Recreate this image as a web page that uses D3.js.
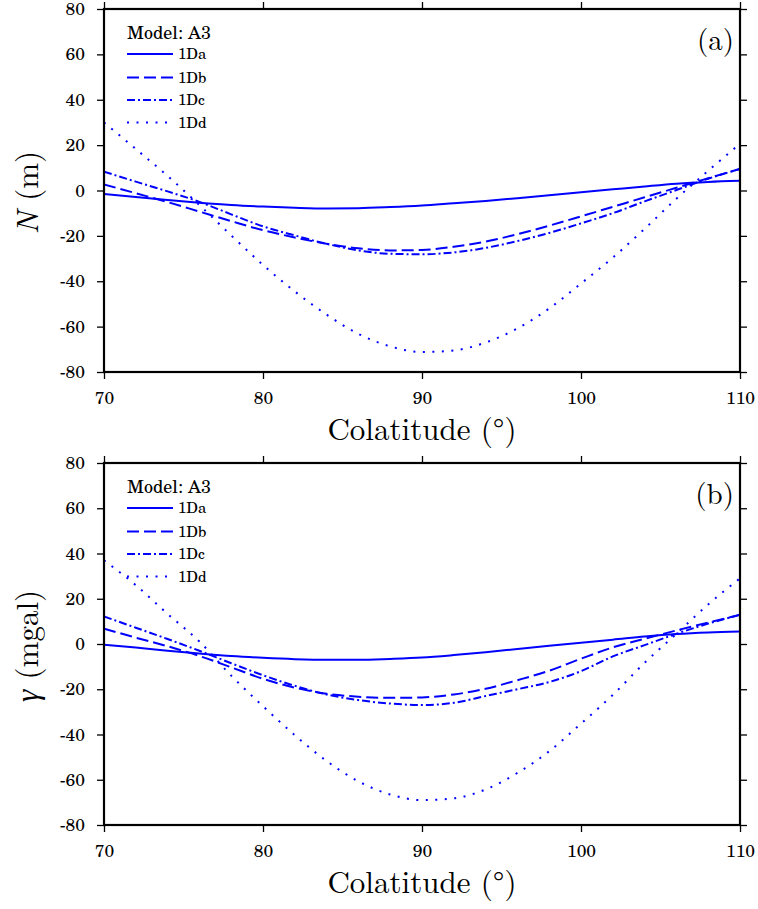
<!DOCTYPE html>
<html>
<head>
<meta charset="utf-8">
<script src="https://cdn.jsdelivr.net/npm/d3@7"></script>
<style>
  body { margin: 0; background: #fff; }
  svg { display: block; }
</style>
</head>
<body>
<svg id="chart" width="758" height="909"></svg>
<script>
// ---------- data ----------
const colatitude = [70, 72, 74, 76, 78, 80, 82, 84, 86, 88, 90, 92, 94, 96, 98, 100, 102, 104, 106, 108, 110];
const seriesNames = ["1Da", "1Db", "1Dc", "1Dd"];

// Panel (a): geoid height N (m)
const nA_1Da = [-1.5, -2.9, -4.2, -5.4, -6.4, -7.1, -7.6, -7.9, -7.8, -7.3, -6.6, -5.6, -4.6, -3.4, -2.1, -0.8, 0.5, 1.8, 3.0, 3.8, 4.3];
const nA_1Db = [2.7, -1.2, -5.1, -9.3, -13.5, -17.5, -20.7, -23.5, -25.5, -26.4, -26.2, -24.8, -22.5, -19.3, -15.5, -11.4, -7.2, -3.0, 1.2, 5.4, 9.5];
const nA_1Dc = [8.3, 3.9, -0.4, -5.0, -10.5, -15.8, -19.8, -23.5, -26.4, -27.9, -28.1, -27.3, -25.3, -22.3, -18.7, -14.5, -10.0, -4.8, 0.2, 5.2, 9.5];
const nA_1Dd = [30.0, 18.3, 6.4, -6.4, -19.8, -32.8, -44.5, -54.7, -63.2, -68.7, -71.2, -70.5, -67.0, -60.8, -52.0, -41.0, -29.6, -16.9, -3.6, 8.7, 20.6];

// Panel (b): gravity anomaly gamma (mgal)
const gB_1Da = [-0.3, -1.6, -3.0, -4.2, -5.3, -6.1, -6.7, -7.0, -7.0, -6.6, -6.0, -4.9, -3.6, -2.2, -0.8, 0.6, 1.9, 3.3, 4.4, 5.1, 5.5];
const gB_1Db = [6.8, 2.8, -1.0, -5.3, -10.3, -15.4, -19.3, -22.0, -23.3, -23.8, -23.6, -22.3, -19.8, -16.0, -11.8, -6.5, -1.5, 2.3, 6.0, 9.5, 12.9];
const gB_1Dc = [12.2, 7.2, 2.2, -3.0, -8.5, -13.8, -18.5, -22.3, -24.8, -26.3, -27.0, -26.0, -23.0, -20.0, -16.8, -12.0, -5.5, -0.5, 4.5, 9.0, 12.9];
const gB_1Dd = [37.0, 26.0, 13.3, 1.1, -14.0, -27.5, -40.3, -51.7, -60.7, -66.5, -69.0, -68.2, -64.3, -57.0, -47.4, -35.2, -22.5, -8.3, 4.5, 17.5, 29.0];

const xTicks = [70, 80, 90, 100, 110];
const yTicks = [-80, -60, -40, -20, 0, 20, 40, 60, 80];
const modelLabel = "Model: A3";

// ---------- layout ----------
const svg = d3.select("#chart");
const X0 = 104, X1 = 740;
const x = d3.scaleLinear().domain([70, 110]).range([X0, X1]);
const dashes = ["none", "12,5", "8,3,2,3", "2,7.5"];
const blue = "#0000ff";
const fmt = d => String(d); // plain hyphen-minus like the reference
const tickFont = "'TeX Gyre Schola', 'Century Schoolbook L', 'Liberation Serif', serif";
const titleFont = "'Latin Modern Roman', 'Liberation Serif', serif";

const panels = [
  { top: 9, bottom: 372, tag: "(a)", ylabel: "N", unit: " (m)",
    series: [nA_1Da, nA_1Db, nA_1Dc, nA_1Dd] },
  { top: 463, bottom: 825, tag: "(b)", ylabel: "γ", unit: " (mgal)",
    series: [gB_1Da, gB_1Db, gB_1Dc, gB_1Dd] }
];

panels.forEach(p => {
  const y = d3.scaleLinear().domain([-80, 80]).range([p.bottom, p.top]);
  const g = svg.append("g");

  const clipId = "clip" + p.top;
  svg.append("clipPath").attr("id", clipId).append("rect")
    .attr("x", X0).attr("y", p.top).attr("width", X1 - X0).attr("height", p.bottom - p.top);

  const line = d3.line().x((d, i) => x(colatitude[i])).y(d => y(d)).curve(d3.curveMonotoneX);
  p.series.forEach((s, k) => {
    g.append("path").datum(s)
      .attr("d", line)
      .attr("fill", "none")
      .attr("stroke", blue)
      .attr("stroke-width", 2)
      .attr("stroke-dasharray", dashes[k])
      .attr("clip-path", `url(#${clipId})`);
  });

  const axL = d3.axisLeft(y).tickValues(yTicks).tickSize(7).tickPadding(12).tickFormat(fmt);
  const axR = d3.axisRight(y).tickValues(yTicks).tickSize(7).tickFormat("");
  const axB = d3.axisBottom(x).tickValues(xTicks).tickSize(7).tickPadding(13).tickFormat(fmt);
  const axT = d3.axisTop(x).tickValues(xTicks).tickSize(7).tickFormat("");

  const styleAxis = sel => {
    sel.attr("font-family", null).attr("font-size", null);
    sel.select(".domain").remove();
    sel.selectAll(".tick line").attr("stroke", "#000").attr("stroke-width", 1.3);
    sel.selectAll(".tick text").style("font-family", tickFont).style("font-size", "17.5px").attr("fill", "#000");
  };
  g.append("g").attr("transform", `translate(${X0},0)`).call(axL).call(styleAxis);
  g.append("g").attr("transform", `translate(${X1},0)`).call(axR).call(styleAxis);
  g.append("g").attr("transform", `translate(0,${p.bottom})`).call(axB).call(styleAxis);
  g.append("g").attr("transform", `translate(0,${p.top})`).call(axT).call(styleAxis);

  g.append("rect").attr("x", X0).attr("y", p.top).attr("width", X1 - X0).attr("height", p.bottom - p.top)
    .attr("fill", "none").attr("stroke", "#000").attr("stroke-width", 2.2);

  g.append("text").attr("x", X1 - 6).attr("y", p.top + 41).attr("text-anchor", "end")
    .style("font-family", titleFont).style("font-size", "29px").text(p.tag);

  g.append("text").attr("x", 127).attr("y", p.top + 30)
    .style("font-family", tickFont).style("font-size", "18px").text(modelLabel);
  const rowY = [45, 68.5, 91, 113.5];
  seriesNames.forEach((nm, k) => {
    const yy = p.top + rowY[k];
    g.append("line").attr("x1", 127).attr("x2", 173).attr("y1", yy).attr("y2", yy)
      .attr("stroke", blue).attr("stroke-width", 2).attr("stroke-dasharray", dashes[k]);
    g.append("text").attr("x", 178).attr("y", yy + 5)
      .style("font-family", tickFont).style("font-size", "15px").text(nm);
  });

  g.append("text").attr("x", (X0 + X1) / 2).attr("y", p.bottom + 68).attr("text-anchor", "middle")
    .style("font-family", titleFont).style("font-size", "31px").text("Colatitude (°)");

  const cy = (p.top + p.bottom) / 2 + 2;
  const yt = g.append("text").attr("transform", `translate(38,${cy}) rotate(-90)`)
    .attr("text-anchor", "middle").style("font-family", titleFont).style("font-size", "31px");
  yt.append("tspan").style("font-style", "italic").text(p.ylabel);
  yt.append("tspan").text(p.unit);
});
</script>
</body>
</html>
